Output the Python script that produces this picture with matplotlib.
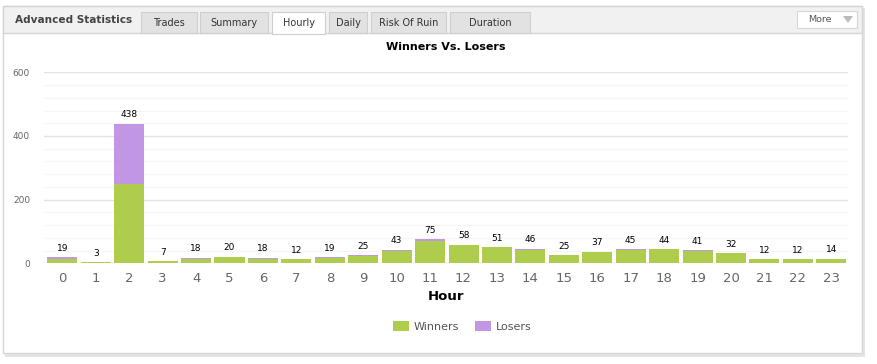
import numpy as np
import matplotlib
matplotlib.use("Agg")
import matplotlib.pyplot as plt
from matplotlib.patches import Rectangle, Polygon

hours = list(range(24))
winners = [14, 3, 250, 7, 14, 20, 14, 12, 16, 22, 38, 70, 56, 51, 41, 25, 35, 43, 44, 39, 32, 12, 12, 14]
losers = [5, 0, 188, 0, 4, 0, 4, 0, 3, 3, 5, 5, 2, 0, 5, 0, 2, 2, 0, 2, 0, 0, 0, 0]
tabs = ["Trades", "Summary", "Hourly", "Daily", "Risk Of Ruin", "Duration"]
tab_left = [141, 200, 272, 329, 371, 450]
tab_right = [197, 268, 325, 367, 446, 530]

W, H = 878, 364
fig = plt.figure(figsize=(W / 100, H / 100), dpi=100)
fig.patch.set_facecolor("white")


def box(x0, y0, x1, y1, z=-5, **kw):
    # pixel box (top-left origin) -> figure fraction rectangle
    r = Rectangle((x0 / W, 1 - y1 / H), (x1 - x0) / W, (y1 - y0) / H,
                  transform=fig.transFigure, zorder=z, **kw)
    fig.add_artist(r)


def txt(x, y, s, **kw):
    fig.text(x / W, 1 - y / H, s, **kw)


# panel, shadow and header
box(5, 8, 865, 357, facecolor="#e4e4e4", edgecolor="none", z=-10)
box(3, 6, 862, 353, facecolor="white", edgecolor="#d6d6d6", lw=1, z=-9)
box(3, 6, 862, 33, facecolor="#f1f1f1", edgecolor="#d6d6d6", lw=1, z=-8)
txt(15, 20, "Advanced Statistics", fontsize=7.6, fontweight="bold", color="#444444", va="center")
for name, l, r in zip(tabs, tab_left, tab_right):
    active = name == "Hourly"
    box(l, 12, r, 34 if active else 33, facecolor="white" if active else "#e2e2e2",
        edgecolor="#cfcfcf", lw=0.8, z=-7)
    txt((l + r) / 2, 22.5, name, fontsize=7, color="#333333", ha="center", va="center")
box(797, 11, 857, 28, facecolor="white", edgecolor="#d6d6d6", lw=0.8, z=-7)
txt(820, 19.5, "More", fontsize=6.8, color="#555555", ha="center", va="center")
fig.add_artist(Polygon([[843 / W, 1 - 16 / H], [853 / W, 1 - 16 / H], [848 / W, 1 - 23 / H]],
                       transform=fig.transFigure, facecolor="#bbbbbb", edgecolor="none"))

# chart
ax = fig.add_axes([44 / W, 1 - 263.3 / H, 804 / W, (263.3 - 72.3) / H])
ax.set_zorder(5)
ax.patch.set_alpha(0)
x = np.array(hours)
ax.bar(x, winners, width=0.9, color="#aecd4c", zorder=3, label="Winners")
ax.bar(x, losers, width=0.9, bottom=winners, color="#c197e4", zorder=3, label="Losers")
totals = np.array(winners) + np.array(losers)
for xi, t in zip(x, totals):
    ax.text(xi, t + 14, str(t), ha="center", va="bottom", fontsize=6.5, color="black")

ax.set_xlim(-0.55, 23.5)
ax.set_ylim(0, 600)
ax.set_yticks([0, 200, 400, 600])
ax.set_yticks(np.arange(0, 601, 40), minor=True)
ax.grid(axis="y", which="major", color="#e4e4e4", lw=1, zorder=0)
ax.grid(axis="y", which="minor", color="#f6f6f6", lw=1, zorder=0)
ax.set_xticks(x)
ax.set_xticklabels([str(h) for h in hours], fontsize=9.5, color="#666666")
ax.tick_params(axis="x", length=0, pad=6)
ax.tick_params(axis="y", which="both", length=0, labelsize=6.5, labelcolor="#666666", pad=10)
for s in ax.spines.values():
    s.set_visible(False)
ax.set_xlabel("Hour", fontsize=9.5, fontweight="bold", labelpad=4)
ax.set_title("Winners Vs. Losers", fontsize=8, fontweight="bold", pad=16)
ax.legend(loc="upper center", bbox_to_anchor=(0.52, -0.25), ncol=2, frameon=False,
          fontsize=8, handlelength=1.45, handleheight=1.0, handletextpad=0.4,
          columnspacing=1.5, labelcolor="#555555")

fig.savefig("out.png", dpi=100)
